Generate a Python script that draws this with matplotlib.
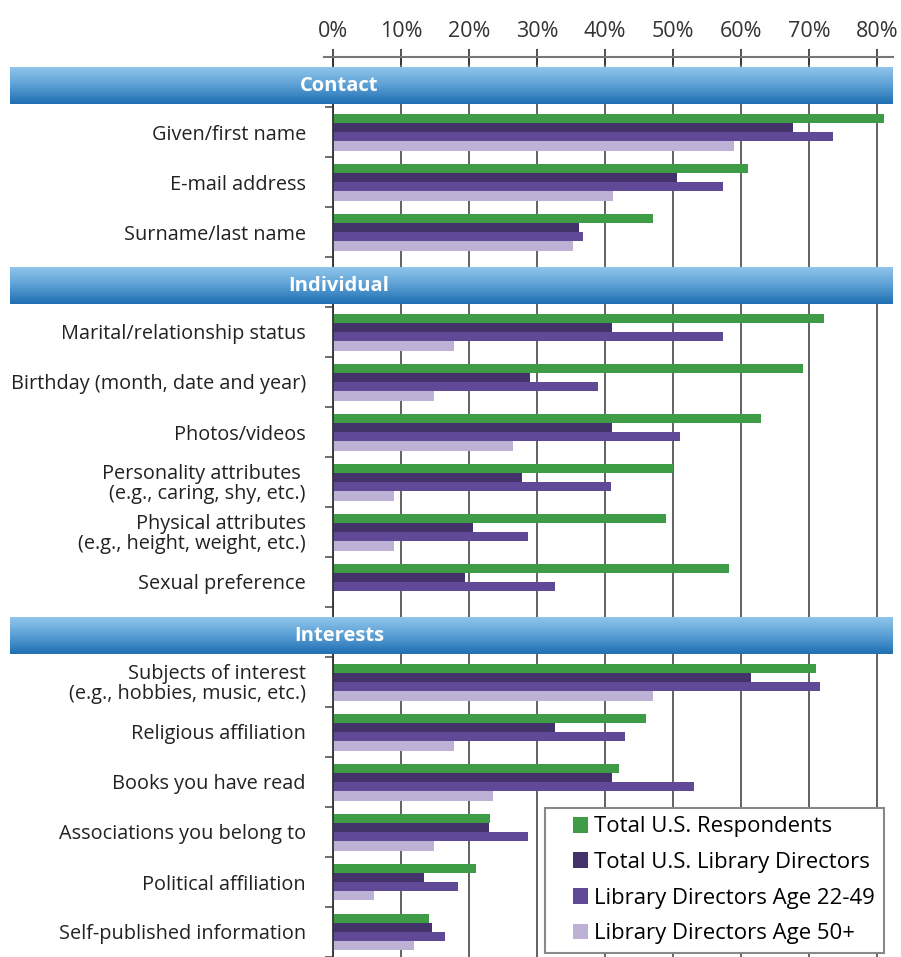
import matplotlib
matplotlib.use("Agg")
import matplotlib.pyplot as plt
import matplotlib.transforms as mtransforms
from matplotlib.colors import LinearSegmentedColormap
from matplotlib.legend_handler import HandlerPatch
from matplotlib.lines import Line2D
from matplotlib.patches import Patch, Rectangle
import numpy as np

plt.rcParams['font.family'] = ['Open Sans', 'DejaVu Sans']

sections = ["Contact", "Individual", "Interests"]
contact_items = ["Given/first name", "E-mail address", "Surname/last name"]
individual_items = ["Marital/relationship status",
                    "Birthday (month, date and year)",
                    "Photos/videos",
                    "Personality attributes \n(e.g., caring, shy, etc.)",
                    "Physical attributes\n(e.g., height, weight, etc.)",
                    "Sexual preference"]
interests_items = ["Subjects of interest\n(e.g., hobbies, music, etc.)",
                   "Religious affiliation",
                   "Books you have read",
                   "Associations you belong to",
                   "Political affiliation",
                   "Self-published information"]

series_names = ["Total U.S. Respondents", "Total U.S. Library Directors",
                "Library Directors Age 22-49", "Library Directors Age 50+"]
# values in %, same order as the items above (contact, individual, interests)
respondents = [81.1, 61.1, 47.1,
               72.2, 69.1, 63.0, 50.0, 49.0, 58.2,
               71.1, 46.1, 42.1, 23.1, 21.0, 14.1]
directors_all = [67.6, 50.6, 36.2,
                 41.0, 29.0, 41.0, 27.8, 20.6, 19.4,
                 61.5, 32.7, 41.0, 22.9, 13.4, 14.6]
directors_young = [73.5, 57.3, 36.8,
                   57.3, 38.9, 51.1, 40.9, 28.7, 32.7,
                   71.6, 43.0, 53.1, 28.7, 18.4, 16.5]
directors_older = [58.9, 41.2, 35.3,
                   17.8, 14.8, 26.5, 8.9, 8.9, 0.0,
                   47.1, 17.8, 23.5, 14.8, 6.0, 11.9]
colors = ["#3e9c47", "#44336a", "#604a97", "#bdb1d6"]


class SquareHandler(HandlerPatch):
    # square swatch pushed to the right end of the handle box
    def create_artists(self, legend, orig_handle, xdescent, ydescent,
                       width, height, fontsize, trans):
        s = height
        p = Rectangle((width - s - xdescent, -ydescent), s, s,
                      facecolor=orig_handle.get_facecolor(), edgecolor='none',
                      transform=trans)
        return [p]


W, H = 901, 957
fig = plt.figure(figsize=(W / 100, H / 100), dpi=100)
ax = fig.add_axes([333 / W, 0, (893 - 333) / W, (957 - 57) / H])

# lay out rows: one header row per section, then its items
header_pos = []
item_pos = []
item_labels = []
row = 0
for sec, items in zip(sections, [contact_items, individual_items, interests_items]):
    header_pos.append(row)
    row += 1
    for t in items:
        item_pos.append(row)
        item_labels.append(t)
        row += 1
n_rows = row
item_pos = np.array(item_pos)

bar_h = 0.185
for j, vals in enumerate([respondents, directors_all, directors_young, directors_older]):
    y = item_pos + 0.13 + bar_h * j + bar_h / 2
    ax.barh(y, vals, height=bar_h, color=colors[j], zorder=2, linewidth=0)

# section header bands with a vertical blue gradient
band_cmap = LinearSegmentedColormap.from_list("band", ["#90c5ea", "#5a9fd4", "#1f6fb2"])
grad = np.linspace(0, 1, 64).reshape(-1, 1)
blend = mtransforms.blended_transform_factory(fig.transFigure, ax.transData)
for pos, sec in zip(header_pos, sections):
    ax.imshow(grad, cmap=band_cmap, aspect='auto', origin='upper',
              extent=[10 / W, 893 / W, pos + 0.95, pos + 0.21],
              transform=blend, clip_on=False, zorder=3)
    ax.text(339 / W, pos + 0.58, sec, transform=blend, ha='center', va='center',
            color='white', fontweight='bold', fontsize=14.5, zorder=4)

ax.set_xlim(0, 82.35)
ax.set_ylim(n_rows, 0)

ax.xaxis.tick_top()
ax.set_xticks(range(0, 81, 10))
ax.set_xticklabels([f"{v}%" for v in range(0, 81, 10)])
ax.tick_params(axis='x', direction='inout', length=12, width=1.2, colors='#333',
               labelsize=15.5, pad=5)
ax.grid(axis='x', color='#555', linewidth=1.3)
ax.set_axisbelow(True)

ax.set_yticks(item_pos + 0.5)
ax.set_yticklabels(item_labels, multialignment='right', linespacing=0.95)
ax.set_yticks(np.arange(1, n_rows + 1), minor=True)
ax.tick_params(axis='y', which='major', length=0, pad=19.5, labelsize=14.3, labelcolor='#222')
ax.tick_params(axis='y', which='minor', direction='out', length=6, width=1.2, color='#555')

for s in ['top', 'right', 'bottom']:
    ax.spines[s].set_visible(False)
ax.spines['left'].set_color('#333')
ax.spines['left'].set_linewidth(1.3)

fig.add_artist(Line2D([324 / W, 893 / W], [1 - 57 / H, 1 - 57 / H],
                      transform=fig.transFigure, color='#777', linewidth=1.5))

handles = [Patch(facecolor=c, edgecolor='none') for c in colors]
leg = fig.legend(handles, series_names, loc='lower right',
                 bbox_to_anchor=(884 / W, 4 / H), fontsize=15.9, frameon=True,
                 fancybox=False, handlelength=1.55, handleheight=0.73,
                 handletextpad=0.27, labelspacing=0.66, borderpad=0.4,
                 borderaxespad=0, handler_map={Patch: SquareHandler()})
leg.get_frame().set_edgecolor('#888')
leg.get_frame().set_linewidth(1.5)
leg.get_frame().set_alpha(1)

fig.savefig("out.png", dpi=100)
